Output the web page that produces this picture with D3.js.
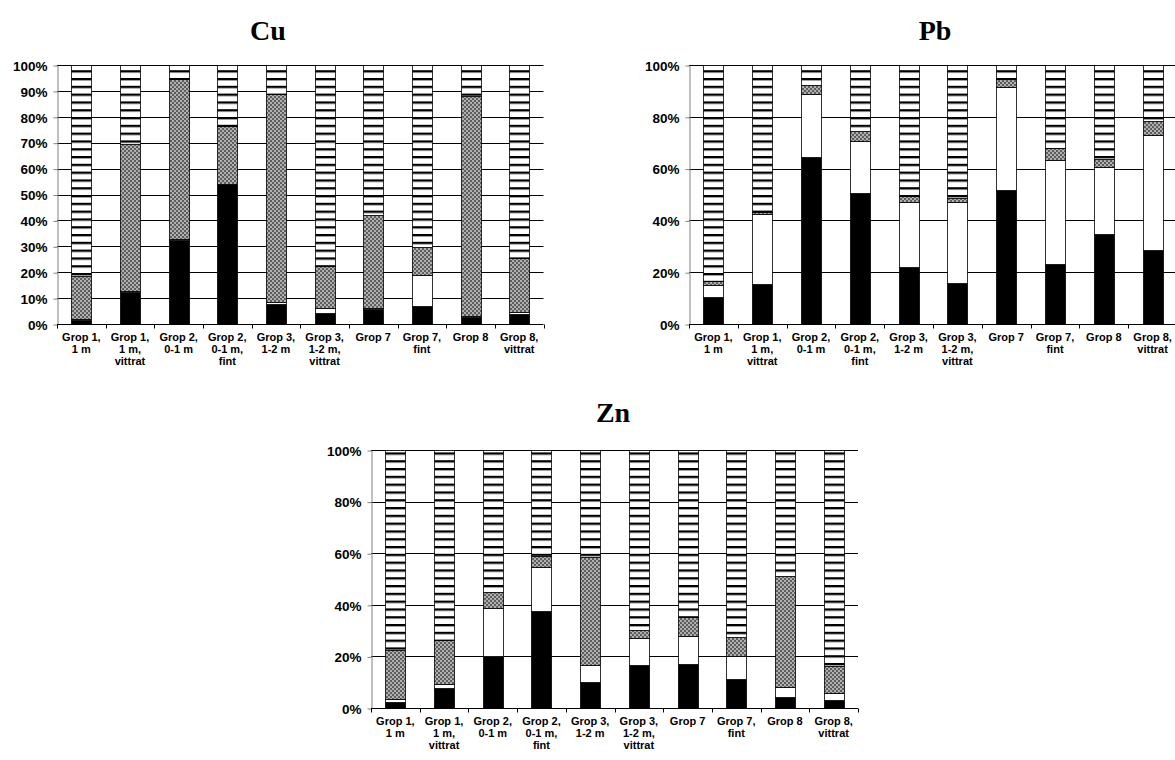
<!DOCTYPE html>
<html>
<head>
<meta charset="utf-8">
<script src="https://cdn.jsdelivr.net/npm/d3@7"></script>
<style>
  html, body { margin: 0; padding: 0; background: #fff; }
  svg { display: block; }
  .tick-label { font-family: Arial, "Liberation Sans", sans-serif; font-weight: bold; font-size: 13.5px; fill: #000; }
  .cat-label { font-family: Arial, "Liberation Sans", sans-serif; font-weight: bold; font-size: 11px; fill: #000; }
  .title { font-family: "Times New Roman", "Liberation Serif", serif; font-weight: bold; font-size: 28px; fill: #000; }
</style>
</head>
<body>
<svg id="chart" width="1175" height="760"></svg>
<script>
// Sample categories (label lines)
const categories = [
  ["Grop 1,", "1 m"],
  ["Grop 1,", "1 m,", "vittrat"],
  ["Grop 2,", "0-1 m"],
  ["Grop 2,", "0-1 m,", "fint"],
  ["Grop 3,", "1-2 m"],
  ["Grop 3,", "1-2 m,", "vittrat"],
  ["Grop 7"],
  ["Grop 7,", "fint"],
  ["Grop 8"],
  ["Grop 8,", "vittrat"]
];

// Fraction series, bottom to top: solid, open, dotted, striped (percent)
const cuSolid   = [1.5, 12.5, 32.5, 53.9, 7.7, 4.4, 5.7, 7.1, 2.8, 3.9];
const cuOpen    = [0.3, 0.3, 0.5, 0.2, 0.7, 1.6, 0.6, 11.7, 0.3, 0.6];
const cuDotted  = [16.7, 56.6, 61.5, 22.3, 80.3, 16.4, 35.8, 11.1, 84.9, 20.9];
const cuStriped = [81.5, 30.6, 5.5, 23.6, 11.3, 77.6, 57.9, 70.1, 12.0, 74.6];

const pbSolid   = [10.6, 15.4, 64.4, 50.5, 22.0, 16.0, 51.7, 23.0, 34.7, 28.4];
const pbOpen    = [4.5, 27.1, 24.3, 20.2, 25.0, 31.0, 39.7, 40.3, 26.0, 44.4];
const pbDotted  = [1.5, 0.7, 3.6, 3.9, 2.4, 1.6, 3.1, 4.5, 3.1, 5.6];
const pbStriped = [83.4, 56.8, 7.7, 25.4, 50.6, 51.4, 5.5, 32.2, 36.2, 21.6];

const znSolid   = [2.3, 7.6, 20.3, 37.7, 9.9, 16.8, 17.2, 11.4, 4.4, 3.0];
const znOpen    = [1.1, 1.6, 18.3, 17.1, 6.6, 10.3, 10.9, 8.6, 3.7, 2.8];
const znDotted  = [19.2, 17.3, 6.2, 4.0, 42.2, 3.2, 7.0, 7.7, 43.1, 10.6];
const znStriped = [77.4, 73.5, 55.2, 41.2, 41.3, 69.7, 64.9, 72.3, 48.8, 83.6];

// Axis ticks
const cuTicks = [0, 0.1, 0.2, 0.3, 0.4, 0.5, 0.6, 0.7, 0.8, 0.9, 1];
const pbTicks = [0, 0.2, 0.4, 0.6, 0.8, 1];
const znTicks = [0, 0.2, 0.4, 0.6, 0.8, 1];

const svg = d3.select("#chart");
const defs = svg.append("defs");

// Horizontal stripe fill
const stripe = defs.append("pattern")
  .attr("id", "stripes").attr("patternUnits", "userSpaceOnUse")
  .attr("width", 8).attr("height", 7.8);
stripe.append("rect").attr("width", 8).attr("height", 7.8).attr("fill", "#fff");
stripe.append("rect").attr("y", 0).attr("width", 8).attr("height", 2).attr("fill", "#000");
stripe.append("rect").attr("y", 2).attr("width", 8).attr("height", 0.8).attr("fill", "#888");

// Dotted grey fill
const dots = defs.append("pattern")
  .attr("id", "dots").attr("patternUnits", "userSpaceOnUse")
  .attr("width", 4).attr("height", 4);
dots.append("rect").attr("width", 4).attr("height", 4).attr("fill", "#5e5e5e");
[[0,0],[2,2]].forEach(([x,y]) => dots.append("rect").attr("x", x).attr("y", y).attr("width", 2).attr("height", 2).attr("fill", "#a0a0a0"));
[[0,0],[2,2]].forEach(([x,y]) => dots.append("rect").attr("x", x + 0.5).attr("y", y + 0.5).attr("width", 1).attr("height", 1).attr("fill", "#dcdcdc"));

const fills = ["#000", "#fff", "url(#dots)", "url(#stripes)"];

function drawChart(cfg) {
  const keys = ["solid", "open", "dotted", "striped"];
  const rows = categories.map((c, i) => ({
    key: i,
    solid: cfg.series[0][i] / 100,
    open: cfg.series[1][i] / 100,
    dotted: cfg.series[2][i] / 100,
    striped: cfg.series[3][i] / 100
  }));
  const stacked = d3.stack().keys(keys)(rows);

  const x = d3.scaleBand().domain(d3.range(categories.length))
    .range([cfg.x0, cfg.x1]).paddingInner(0.59).paddingOuter(0.295);
  const y = d3.scaleLinear().domain([0, 1]).range([cfg.y0, cfg.y1]);

  const g = svg.append("g");

  // gridlines
  g.selectAll(".grid").data(cfg.ticks.filter(t => t > 0)).join("line")
    .attr("x1", cfg.x0).attr("x2", cfg.x1)
    .attr("y1", d => Math.round(y(d)) + 0.5).attr("y2", d => Math.round(y(d)) + 0.5)
    .attr("stroke", "#000").attr("stroke-width", 1);

  // bars
  stacked.forEach((layer, li) => {
    g.selectAll(null).data(layer).join("rect")
      .attr("x", d => Math.round(x(d.data.key)) + 0.5)
      .attr("width", Math.round(x.bandwidth()))
      .attr("y", d => Math.round(y(d[1])) + 0.5)
      .attr("height", d => Math.max(0, Math.round(y(d[0])) - Math.round(y(d[1]))))
      .attr("fill", fills[li])
      .attr("stroke", "#000").attr("stroke-width", 0.8);
  });

  // y axis
  const yAxis = d3.axisLeft(y).tickValues(cfg.ticks)
    .tickFormat(d3.format(".0%")).tickSize(4).tickSizeOuter(0);
  const ya = g.append("g").attr("transform", `translate(${Math.round(cfg.x0) + 0.5},0.5)`).call(yAxis);
  ya.select(".domain").attr("stroke", "#808080");
  ya.selectAll(".tick line").attr("stroke", "#808080");
  ya.selectAll(".tick text").attr("class", "tick-label").attr("x", -10).attr("dy", "0.35em");

  // x axis with ticks at band boundaries
  const yb = Math.round(cfg.y0) + 0.5;
  g.append("line").attr("x1", cfg.x0).attr("x2", cfg.x1).attr("y1", yb).attr("y2", yb)
    .attr("stroke", "#000");
  const step = x.step();
  g.selectAll(".xt").data(d3.range(categories.length + 1)).join("line")
    .attr("x1", i => Math.round(cfg.x0 + i * step) + 0.5)
    .attr("x2", i => Math.round(cfg.x0 + i * step) + 0.5)
    .attr("y1", yb).attr("y2", yb + 4)
    .attr("stroke", "#000");

  // category labels
  const lbl = g.selectAll(".cl").data(categories).join("text")
    .attr("class", "cat-label").attr("text-anchor", "middle")
    .attr("transform", (d, i) => `translate(${x(i) + x.bandwidth() / 2},${cfg.y0 + 17})`);
  lbl.selectAll("tspan").data(d => d).join("tspan")
    .attr("x", 0).attr("dy", (d, i) => i === 0 ? 0 : 12).text(d => d);

  // title
  svg.append("text").attr("class", "title").attr("text-anchor", "middle")
    .attr("x", cfg.tx).attr("y", cfg.ty).text(cfg.title);
}

drawChart({ title: "Cu", series: [cuSolid, cuOpen, cuDotted, cuStriped], ticks: cuTicks,
  x0: 57, x1: 543.5, y0: 324, y1: 65, tx: 268, ty: 40 });
drawChart({ title: "Pb", series: [pbSolid, pbOpen, pbDotted, pbStriped], ticks: pbTicks,
  x0: 689, x1: 1177, y0: 324, y1: 65, tx: 935, ty: 40 });
drawChart({ title: "Zn", series: [znSolid, znOpen, znDotted, znStriped], ticks: znTicks,
  x0: 371, x1: 858, y0: 708, y1: 450, tx: 613, ty: 422 });
</script>
</body>
</html>
